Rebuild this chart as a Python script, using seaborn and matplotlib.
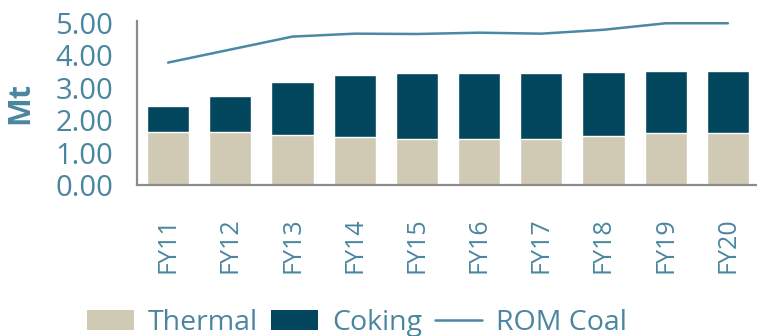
import matplotlib
matplotlib.use("Agg")
import matplotlib.pyplot as plt
import seaborn as sns
import pandas as pd
from matplotlib.patches import Patch
from matplotlib.lines import Line2D

years = ["FY11", "FY12", "FY13", "FY14", "FY15", "FY16", "FY17", "FY18", "FY19", "FY20"]
thermal = [1.64, 1.64, 1.54, 1.48, 1.42, 1.42, 1.42, 1.51, 1.60, 1.60]
coking = [0.80, 1.11, 1.64, 1.92, 2.04, 2.04, 2.04, 1.98, 1.92, 1.92]
rom_coal = [3.77, 4.17, 4.57, 4.66, 4.65, 4.69, 4.66, 4.78, 4.98, 4.98]

C_THERMAL = "#D0C9B4"
C_COKING = "#02475E"
C_LINE = "#4A88A3"
C_TEXT = "#4A86A0"
C_AXIS = "#8C8C8C"

sns.set_theme(style="white")
plt.rcParams["font.family"] = ["Open Sans", "DejaVu Sans"]

df = pd.DataFrame({"year": years, "thermal": thermal, "coking": coking, "rom": rom_coal})
df["total"] = df["thermal"] + df["coking"]

fig = plt.figure(figsize=(7.57, 3.36), dpi=100)
ax = fig.add_axes([137 / 757, 1 - 185 / 336, 622 / 757, 164 / 336])

sns.barplot(data=df, x="year", y="total", color=C_COKING, saturation=1, width=0.68, ax=ax)
sns.barplot(data=df, x="year", y="thermal", color=C_THERMAL, saturation=1, width=0.68, ax=ax)
sns.lineplot(data=df, x="year", y="rom", color=C_LINE, linewidth=1.8, ax=ax, sort=False)

ax.set_xlim(-0.5, 9.5)
ax.set_ylim(0, 5.05)
ax.set_yticks([0, 1, 2, 3, 4, 5])
ax.set_yticklabels([f"{v:.2f}" for v in [0, 1, 2, 3, 4, 5]])
ax.set_xlabel("")
ax.set_ylabel("Mt", fontsize=22, fontweight="bold", color=C_TEXT)
ax.yaxis.set_label_coords((35 - 137) / 622, 0.5)

ax.tick_params(axis="y", length=0, pad=17, labelsize=21, labelcolor=C_TEXT)
ax.tick_params(axis="x", length=0, pad=23, labelsize=18, labelcolor=C_TEXT, labelrotation=90)

for s in ["top", "right"]:
    ax.spines[s].set_visible(False)
for s in ["left", "bottom"]:
    ax.spines[s].set_color(C_AXIS)
    ax.spines[s].set_linewidth(1.6)

handles = [
    Patch(facecolor=C_THERMAL, edgecolor="none", label="Thermal"),
    Patch(facecolor=C_COKING, edgecolor="none", label="Coking"),
    Line2D([0], [0], color=C_LINE, linewidth=1.8, label="ROM Coal"),
]
leg = fig.legend(handles=handles, loc="center", bbox_to_anchor=(357 / 757, 1 - 323 / 336),
                 ncol=3, frameon=False, fontsize=20.5, handlelength=1.65, handleheight=0.75,
                 handletextpad=0.5, columnspacing=0.45, borderaxespad=0, borderpad=0)
for t in leg.get_texts():
    t.set_color(C_TEXT)

fig.savefig("out.png", dpi=100)
